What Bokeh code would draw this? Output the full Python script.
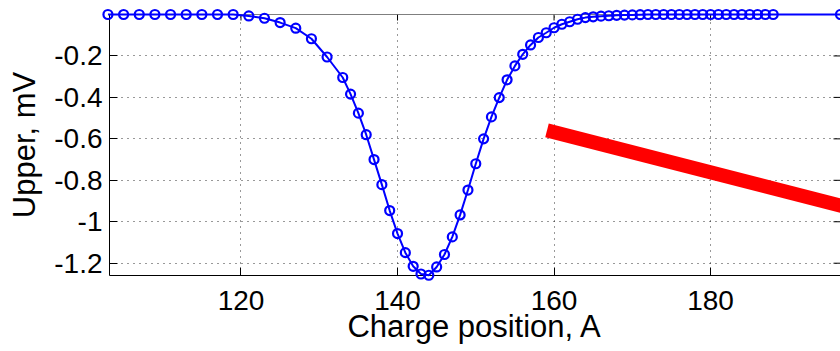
from bokeh.plotting import figure
from bokeh.models import Range1d, FixedTicker, Span
from bokeh.embed import file_html
from bokeh.resources import INLINE

# ---- data ----
pos_x = [103, 105, 107, 109, 111, 113, 115, 117, 119, 121, 123, 125, 127, 129, 131,
         133, 134, 135, 136, 137, 138, 139, 140, 141, 142, 143, 144, 145, 146, 147,
         148, 149, 150, 151, 152, 153, 154, 155, 156, 157, 158, 159, 160, 161, 162,
         163, 164, 165, 166, 167, 168, 169, 170, 171, 172, 173, 174, 175, 176, 177,
         178, 179, 180, 181, 182, 183, 184, 185, 186, 187, 188, 196.6]
upper_mv = [0, 0, 0, 0, 0, 0, 0, 0, 0, -0.007, -0.018, -0.039, -0.066, -0.117, -0.205,
            -0.304, -0.384, -0.476, -0.58, -0.70, -0.821, -0.946, -1.057, -1.149, -1.215,
            -1.252, -1.258, -1.218, -1.158, -1.073, -0.967, -0.847, -0.72, -0.60, -0.494,
            -0.401, -0.315, -0.248, -0.192, -0.147, -0.111, -0.088, -0.064, -0.047, -0.035,
            -0.023, -0.015, -0.011, -0.008, -0.006, -0.004, -0.003, -0.002, -0.001, 0, 0,
            0, 0, 0, 0, 0, 0, 0, 0, 0, 0, 0, 0, 0, 0, 0, 0]
red_x = [159.1, 197.0]
red_y = [-0.559, -0.926]

x_ticks = [120, 140, 160, 180]
y_ticks = [-1.2, -1.0, -0.8, -0.6, -0.4, -0.2]
y_tick_labels = ["-1.2", "-1", "-0.8", "-0.6", "-0.4", "-0.2"]

FONT = "Liberation Sans"
X0, X1 = 103.2, 196.6
Y0, Y1 = -1.2593, 0.0

p = figure(width=840, height=351,
           x_range=Range1d(X0, X1), y_range=Range1d(Y0, Y1),
           output_backend="svg", toolbar_location=None,
           min_border_left=109, min_border_right=0,
           min_border_top=14, min_border_bottom=76)
p.outline_line_color = None
p.background_fill_color = "white"
p.border_fill_color = "white"

# grids
for g, t in ((p.xgrid, x_ticks), (p.ygrid, y_ticks)):
    g.ticker = FixedTicker(ticks=t)
    g.grid_line_color = "black"
    g.grid_line_alpha = 0.8
    g.grid_line_dash = "1 5"
    g.grid_line_width = 1

# bottom axis
xa = p.xaxis[0]
xa.ticker = FixedTicker(ticks=x_ticks)
xa.axis_label = "Charge position, A"
xa.major_label_standoff = 15
xa.axis_label_standoff = -4

# left axis
ya = p.yaxis[0]
ya.ticker = FixedTicker(ticks=y_ticks)
ya.major_label_overrides = {t: s for t, s in zip(y_ticks, y_tick_labels)}
ya.axis_label = "Upper, mV"
ya.major_label_standoff = 7
ya.axis_label_standoff = 9

for ax in (xa, ya):
    ax.major_tick_in = 8
    ax.major_tick_out = 0
    ax.minor_tick_line_color = None
    ax.axis_line_color = "black"
    ax.major_tick_line_color = "black"
    ax.major_label_text_font = FONT
    ax.major_label_text_font_size = "28px"
    ax.major_label_text_color = "black"
    ax.axis_label_text_font = FONT
    ax.axis_label_text_font_size = "31px"
    ax.axis_label_text_font_style = "normal"
    ax.axis_label_text_color = "black"

# top edge of the box and inward ticks on top / right (MATLAB style box)
p.add_layout(Span(location=Y1, dimension="width", line_color="black", line_width=1))
ty = (Y1 - Y0) * 6 / 261
tx = (X1 - X0) * 7 / 731
p.segment(x0=x_ticks, y0=[Y1] * len(x_ticks), x1=x_ticks, y1=[Y1 - ty] * len(x_ticks),
          line_color="black", line_width=1)
p.segment(x0=[X1] * len(y_ticks), y0=y_ticks, x1=[X1 - tx] * len(y_ticks), y1=y_ticks,
          line_color="black", line_width=1)

# data
red = p.line(red_x, red_y, line_color="#FF0000", line_width=14, line_cap="butt")
ln = p.line(pos_x, upper_mv, line_color="#0000FF", line_width=2)
mk = p.scatter(pos_x, upper_mv, marker="circle", size=9, line_color="#0000FF",
               line_width=2.2, fill_color=None)
ln.level = "overlay"
mk.level = "overlay"

open("out.html", "w").write(file_html(p, INLINE))
